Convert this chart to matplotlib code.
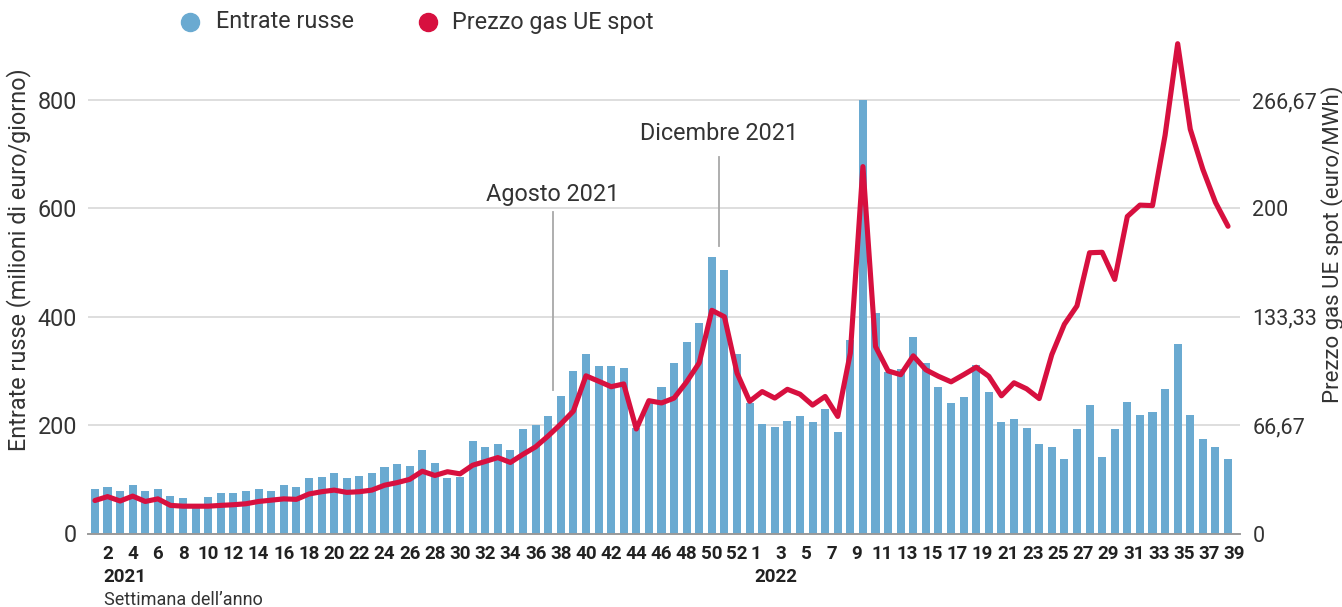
import numpy as np
import matplotlib
matplotlib.use("Agg")
import matplotlib.pyplot as plt
from matplotlib.lines import Line2D

# weekly data: 2021 weeks 1-52, then 2022 weeks 1-39
entrate = [83, 85, 79, 90, 79, 83, 70, 65, 55, 68, 74, 74, 79, 83, 79, 89, 85,
           102, 105, 111, 103, 107, 111, 122, 128, 124, 154, 130, 102, 105,
           170, 159, 165, 154, 193, 200, 217, 254, 300, 331, 309, 309, 306,
           195, 240, 270, 315, 353, 388, 510, 486, 331,
           241, 202, 197, 208, 217, 206, 230, 188, 357, 800, 407, 298, 304,
           363, 315, 271, 241, 252, 311, 262, 205, 212, 195, 166, 160, 138,
           192, 238, 142, 192, 243, 219, 225, 267, 350, 219, 175, 159, 138]

prezzo = [20.3, 22.7, 20.0, 23.0, 19.7, 21.3, 17.3, 16.8, 16.8, 16.8, 17.3,
          17.7, 18.3, 19.7, 20.5, 21.3, 21.0, 24.3, 25.7, 26.7, 25.3, 25.7,
          26.7, 29.7, 31.3, 33.3, 38.3, 35.7, 38.0, 36.7, 42.0, 44.3, 46.7,
          43.7, 48.7, 53.3, 60.0, 67.3, 75.3, 97.0, 93.7, 90.3, 92.0, 64.3,
          81.7, 80.3, 83.3, 93.3, 105.0, 137.3, 133.3, 98.7,
          81.3, 87.3, 83.3, 88.7, 85.7, 79.0, 84.3, 72.0, 111.0, 225.7, 115.0,
          100.0, 97.7, 109.3, 100.7, 96.7, 93.3, 97.7, 102.3, 96.7, 84.7,
          92.7, 89.0, 83.0, 110.0, 128.7, 140.0, 172.7, 173.0, 156.3, 195.0,
          202.0, 201.7, 245.0, 301.3, 248.7, 224.0, 203.7, 189.0]

weeks_2021 = list(range(1, 53))
weeks_2022 = list(range(1, 40))
tick_weeks_2021 = list(range(2, 53, 2))
tick_weeks_2022 = list(range(1, 40, 2))

left_ticks = [0, 200, 400, 600, 800]
right_ticks = [0, 200 / 3, 400 / 3, 200, 800 / 3]
right_labels = ["0", "66,67", "133,33", "200", "266,67"]

BLUE = "#6aaad1"
RED = "#d7103f"
TXT = "#333333"
FS = 16.8
FS_X = 13.5

plt.rcParams['font.family'] = ['Roboto', 'DejaVu Sans']

W, H = 1342, 607
fig = plt.figure(figsize=(W / 100, H / 100), dpi=100)
ax_l, ax_r, ax_b, ax_t = 88, 1240, 533.5, 40
ax = fig.add_axes([ax_l / W, 1 - ax_b / H, (ax_r - ax_l) / W, (ax_b - ax_t) / H])

n21 = len(weeks_2021)
x = np.arange(1, n21 + len(weeks_2022) + 1)
px_per_unit = (ax_b - 100) / 800
ymax = (ax_b - ax_t) / px_per_unit

ax.bar(x, entrate, width=0.64, color=BLUE, zorder=2)
ax.set_xlim(0.45, x[-1] + 0.95)
ax.set_ylim(0, ymax)

ax2 = ax.twinx()
ax2.set_ylim(0, ymax / 3)
ax2.plot(x, prezzo, color=RED, lw=3.7, solid_joinstyle='round',
         solid_capstyle='round', zorder=3, clip_on=False)

for a in (ax, ax2):
    for s in a.spines.values():
        s.set_visible(False)

ax.spines['bottom'].set_visible(True)
ax.spines['bottom'].set_color("#9a9a9a")
ax.spines['bottom'].set_linewidth(1.4)

ax.set_yticks(left_ticks)
ax.set_yticklabels([str(v) for v in left_ticks])
ax.yaxis.grid(True, color="#dedede", lw=1.4, zorder=0)
ax.set_axisbelow(True)
ax.tick_params(axis='y', length=0, pad=8, labelsize=FS, labelcolor=TXT)

ax2.set_yticks(right_ticks)
ax2.set_yticklabels(right_labels)
ax2.tick_params(axis='y', length=0, pad=9, labelsize=15.5, labelcolor=TXT)

# x ticks: 2021 even weeks, 2022 odd weeks
pos = [w for w in tick_weeks_2021] + [n21 + w + 0.5 for w in tick_weeks_2022]
labs = [str(w) for w in tick_weeks_2021] + [str(w) for w in tick_weeks_2022]
ax.set_xticks(pos)
ax.set_xticklabels(labs, fontweight='bold', fontsize=FS_X, color="#222222")
ax.tick_params(axis='x', length=0, pad=8)

fig.text(103 / W, 1 - 577 / H, "2021", fontsize=FS_X, fontweight='bold',
         color="#222222", va='center', ha='left')
fig.text(754 / W, 1 - 577 / H, "2022", fontsize=FS_X, fontweight='bold',
         color="#222222", va='center', ha='left')
fig.text(104 / W, 1 - 600 / H, "Settimana dell\u2019anno", fontsize=13,
         color=TXT, va='center', ha='left')

fig.text(19 / W, 1 - 260 / H, "Entrate russe (milioni di euro/giorno)",
         rotation=90, fontsize=FS, color=TXT, va='center', ha='center')
fig.text(1333 / W, 1 - 244 / H, "Prezzo gas UE spot (euro/MWh)",
         rotation=90, fontsize=16, color=TXT, va='center', ha='center')

# annotations: label, x position, line bottom/top and text centre (pixels)
ann = [("Agosto 2021", 37.35, 390, 212, 195), ("Dicembre 2021", 50.55, 246, 157, 133)]
for label, xpos, ylo, yhi, ytxt in ann:
    ax.plot([xpos, xpos], [(ax_b - ylo) / px_per_unit, (ax_b - yhi) / px_per_unit],
            color="#a8a8a8", lw=1.3, zorder=1)
    ax.text(xpos, (ax_b - ytxt) / px_per_unit, label, ha='center', va='center',
            fontsize=FS, color=TXT)

# legend
fig.add_artist(Line2D([190 / W], [1 - 22 / H], marker='o', ms=13, color=BLUE,
                      transform=fig.transFigure, lw=0))
fig.text(216 / W, 1 - 22 / H, "Entrate russe", fontsize=FS, color=TXT,
         va='center', ha='left')
fig.add_artist(Line2D([428 / W], [1 - 22 / H], marker='o', ms=13, color=RED,
                      transform=fig.transFigure, lw=0))
fig.text(452 / W, 1 - 22 / H, "Prezzo gas UE spot", fontsize=FS, color=TXT,
         va='center', ha='left')

fig.savefig("out.png", dpi=100)
